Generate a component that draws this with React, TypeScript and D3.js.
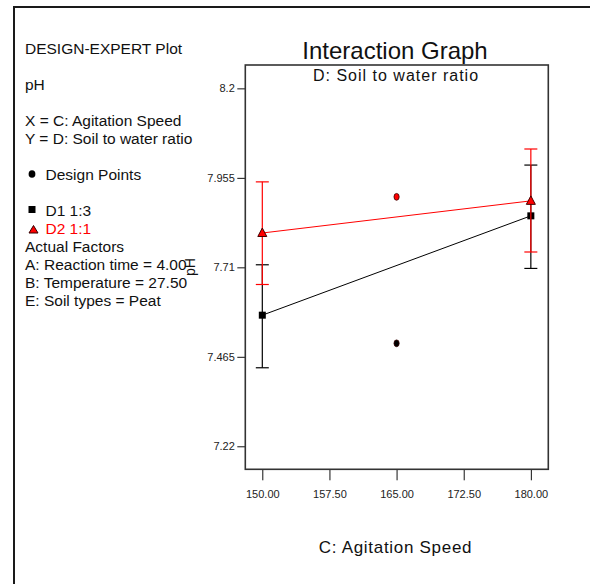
import React, { useRef, useEffect } from "react";
import * as d3 from "d3";

// factor levels of C: Agitation Speed
const speedLevels = [150, 180];

// D1 1:3 (black squares) - predicted means and LSD bars
const d1Mean = [7.579, 7.851];
const d1Low = [7.435, 7.707];
const d1High = [7.717, 7.99];

// D2 1:1 (red triangles)
const d2Mean = [7.804, 7.892];
const d2Low = [7.663, 7.752];
const d2High = [7.944, 8.034];

// design points at the centre speed
const designX = [165, 165];
const designY = [7.903, 7.502];
const designSeries = ["D2", "D1"];

const yTicks = [7.22, 7.465, 7.71, 7.955, 8.2];
const yTickLabels = ["7.22", "7.465", "7.71", "7.955", "8.2"];
const xTicks = [150, 157.5, 165, 172.5, 180];

const infoLines = [
  "A: Reaction time = 4.00",
  "B: Temperature = 27.50",
  "E: Soil types = Peat"
];

const FONT = "Arial, 'Liberation Sans', sans-serif";

const App = () => {
  const svgRef = useRef<SVGSVGElement>(null);

  const width = 590;
  const height = 584;
  const box = { left: 245.3, right: 548.3, top: 65, bottom: 469.3 };

  useEffect(() => {
    const svg = d3.select(svgRef.current);
    svg.selectAll("*").remove();

    const x = d3
      .scaleLinear()
      .domain([148.1, 181.95])
      .range([box.left, box.right]);

    const y = d3
      .scaleLinear()
      .domain([7.157, 8.264])
      .range([box.bottom, box.top]);

    svg
      .append("rect")
      .attr("width", width)
      .attr("height", height)
      .attr("fill", "#fff");

    // outer frame (only left and top are visible)
    svg
      .append("path")
      .attr("d", `M14,${height + 5} L14,7 L${width + 5},7`)
      .attr("fill", "none")
      .attr("stroke", "#1a1a1a")
      .attr("stroke-width", 2);

    // left info block
    const info = svg
      .append("g")
      .attr("font-family", FONT)
      .attr("font-size", 15.5)
      .attr("fill", "#111");
    info.append("text").attr("x", 25).attr("y", 54).text("DESIGN-EXPERT Plot");
    info.append("text").attr("x", 25).attr("y", 90).text("pH");
    info.append("text").attr("x", 25).attr("y", 126).text("X = C: Agitation Speed");
    info.append("text").attr("x", 25).attr("y", 144).text("Y = D: Soil to water ratio");
    info.append("ellipse").attr("cx", 32).attr("cy", 174).attr("rx", 3.4).attr("ry", 3.8).attr("fill", "#000");
    info.append("text").attr("x", 45.5).attr("y", 180).text("Design Points");
    info.append("rect").attr("x", 28.5).attr("y", 206).attr("width", 7).attr("height", 7).attr("fill", "#000");
    info.append("text").attr("x", 45.5).attr("y", 216).text("D1 1:3");
    info
      .append("path")
      .attr("d", "M33.5,225.5 L38,233 L29,233 Z")
      .attr("fill", "#f00")
      .attr("stroke", "#300")
      .attr("stroke-width", 1);
    info.append("text").attr("x", 45.5).attr("y", 234).attr("fill", "#f00").text("D2 1:1");
    info.append("text").attr("x", 25).attr("y", 252).text("Actual Factors");
    infoLines.forEach((t, i) => {
      info.append("text").attr("x", 25).attr("y", 270 + i * 18).text(t);
    });

    // y axis title (rotated, overlaps the info text as in the original)
    svg
      .append("text")
      .attr("transform", "translate(195,267) rotate(-90)")
      .attr("text-anchor", "middle")
      .attr("font-family", FONT)
      .attr("font-size", 14)
      .attr("fill", "#111")
      .text("pH");

    // titles
    svg
      .append("text")
      .attr("x", 395)
      .attr("y", 59)
      .attr("text-anchor", "middle")
      .attr("font-family", FONT)
      .attr("font-size", 24)
      .attr("fill", "#111")
      .text("Interaction Graph");

    svg
      .append("text")
      .attr("x", 396)
      .attr("y", 80.5)
      .attr("text-anchor", "middle")
      .attr("font-family", FONT)
      .attr("font-size", 16)
      .attr("letter-spacing", 1)
      .attr("fill", "#111")
      .text("D: Soil to water ratio");

    svg
      .append("text")
      .attr("x", 395.5)
      .attr("y", 552.5)
      .attr("text-anchor", "middle")
      .attr("font-family", FONT)
      .attr("font-size", 17)
      .attr("letter-spacing", 0.7)
      .attr("fill", "#111")
      .text("C: Agitation Speed");

    // axes
    const yAxis = svg
      .append("g")
      .attr("transform", `translate(${box.left},0)`)
      .call(
        d3
          .axisLeft(y)
          .tickValues(yTicks)
          .tickSize(8)
          .tickPadding(2.5)
          .tickFormat((_, i) => yTickLabels[i])
      );
    yAxis.select(".domain").remove();
    yAxis
      .selectAll("text")
      .attr("font-family", FONT)
      .attr("font-size", 11)
      .attr("fill", "#222");
    yAxis.selectAll("line").attr("stroke", "#111");

    const xAxis = svg
      .append("g")
      .attr("transform", `translate(0,${box.bottom})`)
      .call(
        d3
          .axisBottom(x)
          .tickValues(xTicks)
          .tickSize(11)
          .tickPadding(10)
          .tickFormat(d3.format(".2f"))
      );
    xAxis.select(".domain").remove();
    xAxis
      .selectAll("text")
      .attr("font-family", FONT)
      .attr("font-size", 11)
      .attr("fill", "#222");
    xAxis.selectAll("line").attr("stroke", "#111");

    // plot box
    svg
      .append("rect")
      .attr("x", box.left)
      .attr("y", box.top)
      .attr("width", box.right - box.left)
      .attr("height", box.bottom - box.top)
      .attr("fill", "none")
      .attr("stroke", "#333")
      .attr("stroke-width", 1.6);

    const content = svg.append("g");
    const capHalf = 6.5;

    const drawSeries = (
      mean: number[],
      low: number[],
      high: number[],
      color: string,
      marker: string
    ) => {
      const pts = speedLevels.map((s, i) => [x(s), y(mean[i])] as [number, number]);
      speedLevels.forEach((s, i) => {
        const cx = x(s);
        content
          .append("line")
          .attr("x1", cx)
          .attr("x2", cx)
          .attr("y1", y(low[i]))
          .attr("y2", y(high[i]))
          .attr("stroke", color)
          .attr("stroke-width", 1.2);
        [low[i], high[i]].forEach((v) => {
          content
            .append("line")
            .attr("x1", cx - capHalf)
            .attr("x2", cx + capHalf)
            .attr("y1", y(v))
            .attr("y2", y(v))
            .attr("stroke", color)
            .attr("stroke-width", 1.2);
        });
      });
      content
        .append("path")
        .attr("d", d3.line()(pts))
        .attr("fill", "none")
        .attr("stroke", color)
        .attr("stroke-width", 1);
      pts.forEach(([px, py]) => {
        if (marker === "square") {
          content
            .append("rect")
            .attr("x", px - 3.5)
            .attr("y", py - 3.5)
            .attr("width", 7)
            .attr("height", 7)
            .attr("fill", "#000");
        } else {
          content
            .append("path")
            .attr("d", `M${px},${py - 5} L${px + 4.5},${py + 3.5} L${px - 4.5},${py + 3.5} Z`)
            .attr("fill", "#f00")
            .attr("stroke", "#400")
            .attr("stroke-width", 1);
        }
      });
    };

    drawSeries(d1Mean, d1Low, d1High, "#000", "square");
    drawSeries(d2Mean, d2Low, d2High, "#f00", "triangle");

    designX.forEach((dx, i) => {
      content
        .append("ellipse")
        .attr("cx", x(dx))
        .attr("cy", y(designY[i]))
        .attr("rx", 2.6)
        .attr("ry", 3.4)
        .attr("fill", designSeries[i] === "D2" ? "#f00" : "#000")
        .attr("stroke", "#300")
        .attr("stroke-width", 0.8);
    });
    // eslint-disable-next-line react-hooks/exhaustive-deps
  }, []);

  return (
    <svg
      ref={svgRef}
      width={width}
      height={height}
      style={{ position: "absolute", left: 0, top: 0 }}
      xmlns="http://www.w3.org/2000/svg"
    />
  );
};

export default App;
